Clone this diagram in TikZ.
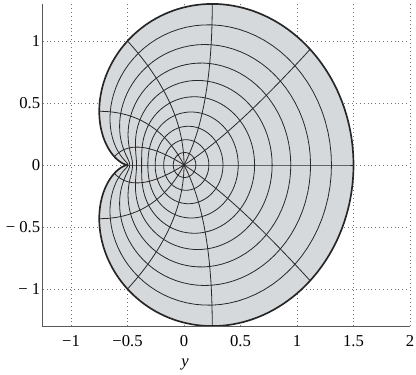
\documentclass[tikz,border=0pt]{standalone}
\usepackage{fontspec}
\setmainfont{Liberation Serif}
\newfontfamily\tickfont{Liberation Serif}
\definecolor{shapefill}{RGB}{214,217,219}
\definecolor{curvecol}{RGB}{40,40,40}
\begin{document}
\begin{tikzpicture}[x=84.75pt,y=93pt,
  gridline/.style={draw=black!55, line width=0.55pt, dash pattern=on 0.7pt off 2.2pt},
  curve/.style={draw=curvecol, line width=0.6pt},
  bound/.style={draw=black!85, line width=1.25pt, line join=round},
  axisline/.style={draw=black!65, line width=0.7pt},
  ticklabel/.style={font=\tickfont\fontsize{12.5}{14}\selectfont, inner sep=0pt}]
\useasboundingbox (-1.6283,-1.6855) rectangle (2.0531,1.3306);
% dotted grid
\foreach \gx in {-1,-0.5,0,0.5,1,1.5,2}
  \draw[gridline] (\gx,-1.3) -- (\gx,1.3);
\foreach \gy in {-1,-0.5,0,0.5,1}
  \draw[gridline] (-1.25,\gy) -- (2,\gy);
% filled image of the unit disk
\fill[shapefill] plot[domain=0:360,samples=241,variable=\t]
  ({cos(\t)+cos(2*\t)/2},{sin(\t)+sin(2*\t)/2}) -- cycle;
% images of circles |z| = r
\foreach \k in {1,...,9}{
  \pgfmathsetmacro{\rr}{\k/10}
  \draw[curve] plot[domain=0:360,samples=121,variable=\t]
    ({\rr*cos(\t)+\rr*\rr*cos(2*\t)/2},{\rr*sin(\t)+\rr*\rr*sin(2*\t)/2}) -- cycle;
}
% images of rays arg z = a
\foreach \a in {0,30,...,330}
  \draw[curve] plot[domain=0:1,samples=41,variable=\s]
    ({\s*cos(\a)+\s*\s*cos(2*\a)/2},{\s*sin(\a)+\s*\s*sin(2*\a)/2});
% boundary
\draw[bound] plot[domain=0:360,samples=241,variable=\t]
  ({cos(\t)+cos(2*\t)/2},{sin(\t)+sin(2*\t)/2}) -- cycle;
% axes
\coordinate (ytop) at (-1.25,1.3);
\coordinate (orig) at (-1.25,-1.3);
\coordinate (xend) at (2,-1.3);
\draw[axisline] (ytop) -- (orig) -- (xend);
% tick labels
\foreach \v/\t/\n in {-1/{−1}/a,-0.5/{−0.5}/b,0/0/c,0.5/0.5/d,1/1/e,1.5/1.5/f,2/2/g}
  \node[ticklabel] (xl\n) at (\v,-1.42) {\t};
\foreach \v/\t/\n in {1/1/a,0.5/0.5/b,0/0/c,-0.5/{− 0.5}/d,-1/{− 1}/e}
  \node[ticklabel,anchor=east] (yl\n) at (-1.27,\v) {\t};
\node[ticklabel] (xlabel) at (0.01,-1.61) {\itshape y};
\end{tikzpicture}
\end{document}
